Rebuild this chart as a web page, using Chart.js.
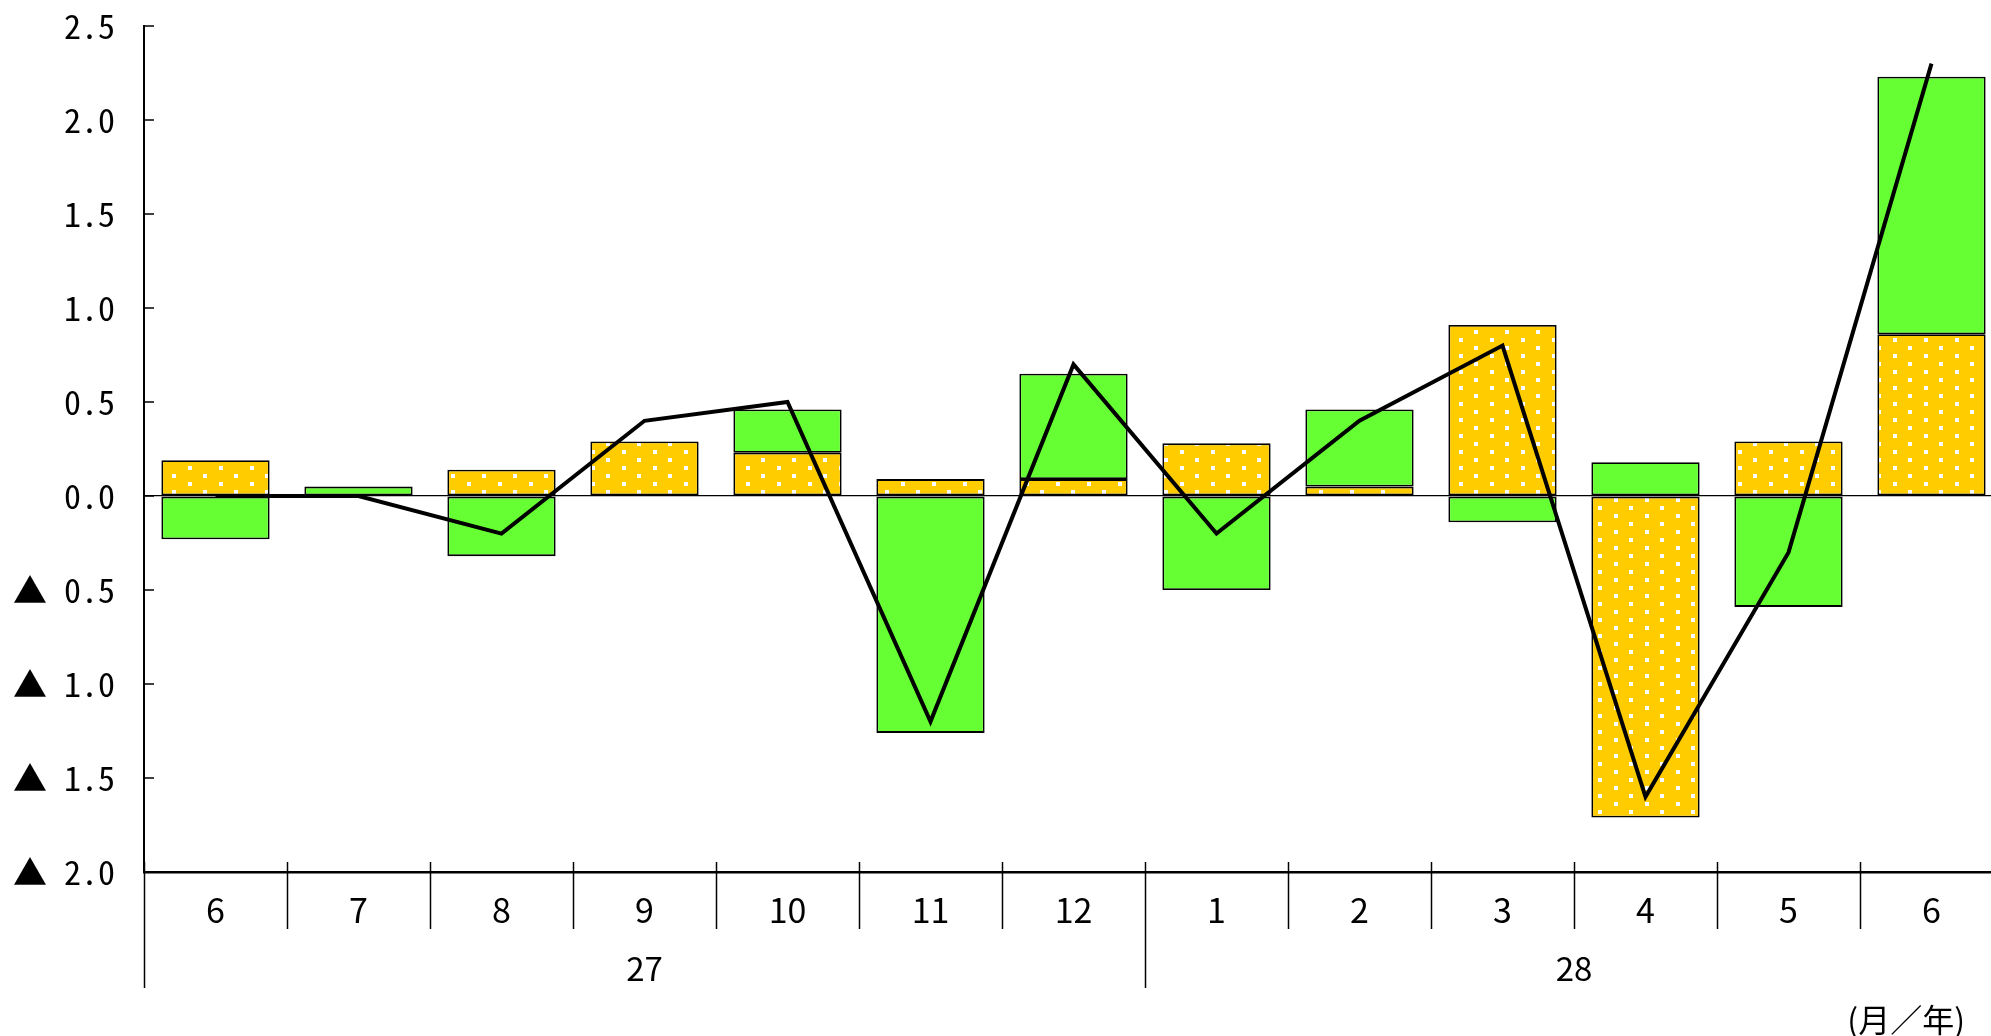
<!DOCTYPE html>
<html lang="ja">
<head>
    <meta charset="UTF-8">
    <title>月別寄与度</title>
    <script src="https://cdn.jsdelivr.net/npm/chart.js"></script>
    <style>
        html, body { margin: 0; padding: 0; background: #fff; overflow: hidden; }
        /* a bit wider than the window: the last column runs off the right edge */
        .chart-box { width: 2003px; height: 1036px; position: relative; }
    </style>
</head>
<body>
<div class="chart-box">
    <canvas id="canvas"></canvas>
</div>

<script>
    // months along the axis, grouped by year
    const months = ['6', '7', '8', '9', '10', '11', '12', '1', '2', '3', '4', '5', '6'];
    const yearNames = ['27', '28'];
    const yearStart = [0, 7];

    // dotted yellow part, green part, and the total (line)
    const dottedPart = [0.19, 0, 0.14, 0.29, 0.23, 0.09, 0.09, 0.28, 0.05, 0.91, -1.71, 0.29, 0.86];
    const greenPart = [-0.23, 0.05, -0.32, 0, 0.23, -1.26, 0.56, -0.50, 0.41, -0.14, 0.18, -0.59, 1.37];
    const total = [0, 0, -0.2, 0.4, 0.5, -1.2, 0.7, -0.2, 0.4, 0.8, -1.6, -0.3, 2.3];

    const yMin = -2;
    const yMax = 2.5;
    const yStep = 0.5;

    // yellow with white dots
    function dotPattern() {
        const tile = document.createElement('canvas');
        tile.width = 31;
        tile.height = 16;
        const c = tile.getContext('2d');
        c.fillStyle = '#FFCC00';
        c.fillRect(0, 0, 31, 16);
        c.fillStyle = '#FFFFFF';
        c.fillRect(2, 2, 4, 4);
        c.fillRect(17, 10, 4, 4);
        return c.createPattern(tile, 'repeat');
    }

    function line(ctx, x1, y1, x2, y2) {
        ctx.beginPath();
        ctx.moveTo(x1, y1);
        ctx.lineTo(x2, y2);
        ctx.stroke();
    }

    // inward ticks, category dividers, year row and unit label
    const framePlugin = {
        id: 'frame',
        afterDraw(chart) {
            const { ctx, chartArea: a, scales: { x, y } } = chart;
            const half = (x.getPixelForValue(1) - x.getPixelForValue(0)) / 2;
            ctx.save();
            ctx.strokeStyle = '#000';

            ctx.lineWidth = 1.5;
            y.ticks.forEach(t => {
                const py = y.getPixelForValue(t.value);
                line(ctx, a.left, py, a.left + 10, py);
            });

            months.forEach((m, i) => {
                const px = Math.round(x.getPixelForValue(i) - half) + 0.5;
                const isYear = yearStart.includes(i);
                line(ctx, px, a.bottom - 10, px, a.bottom + (isYear ? 116 : 57));
            });

            ctx.fillStyle = '#000';
            ctx.textAlign = 'center';
            ctx.textBaseline = 'middle';
            ctx.font = '33px "Noto Sans CJK JP"';
            yearNames.forEach((name, k) => {
                const from = yearStart[k];
                const to = (k + 1 < yearStart.length ? yearStart[k + 1] : months.length) - 1;
                const cx = (x.getPixelForValue(from) + x.getPixelForValue(to)) / 2;
                ctx.fillText(name, cx, a.bottom + 96);
            });

            ctx.textAlign = 'right';
            ctx.font = '32px "Noto Sans CJK JP"';
            ctx.fillText('(月／年)', a.right - 38, a.bottom + 148);
            ctx.restore();
        }
    };

    const ctx = document.getElementById('canvas').getContext('2d');
    new Chart(ctx, {
        type: 'bar',
        data: {
            labels: months,
            datasets: [
                {
                    type: 'line',
                    label: '合計',
                    data: total,
                    stack: 'line',
                    order: 0,
                    borderColor: '#000',
                    borderWidth: 4,
                    tension: 0,
                    pointRadius: 0,
                    fill: false
                },
                {
                    label: 'A',
                    data: dottedPart,
                    stack: 'bars',
                    order: 1,
                    backgroundColor: dotPattern(),
                    borderColor: '#000',
                    borderWidth: 1.8,
                    borderSkipped: false,
                    barPercentage: 0.757,
                    categoryPercentage: 1
                },
                {
                    label: 'B',
                    data: greenPart,
                    stack: 'bars',
                    order: 2,
                    backgroundColor: '#66FF33',
                    borderColor: '#000',
                    borderWidth: 1.8,
                    borderSkipped: false,
                    barPercentage: 0.757,
                    categoryPercentage: 1
                }
            ]
        },
        options: {
            responsive: true,
            maintainAspectRatio: false,
            animation: false,
            devicePixelRatio: 1,
            layout: { padding: { top: 26, right: 0, bottom: 0, left: 0 } },
            plugins: {
                legend: { display: false },
                tooltip: { enabled: false }
            },
            scales: {
                x: {
                    stacked: true,
                    grid: { display: false },
                    border: { display: true, color: '#000', width: 2.5 },
                    ticks: {
                        color: '#000',
                        padding: 10,
                        font: { family: '"Noto Sans CJK JP"', size: 34 }
                    },
                    afterFit: s => { s.height = 164; }
                },
                y: {
                    stacked: true,
                    min: yMin,
                    max: yMax,
                    grid: {
                        drawTicks: false,
                        color: c => (c.tick && c.tick.value === 0 ? '#000' : 'rgba(0,0,0,0)'),
                        lineWidth: 1.2
                    },
                    border: { display: true, color: '#000', width: 2 },
                    ticks: {
                        stepSize: yStep,
                        padding: 29,
                        color: '#000',
                        font: { family: '"Noto Sans Mono CJK JP", "Liberation Mono", monospace', size: 34 },
                        callback: v => (v < 0 ? '▲ ' : '') + Math.abs(v).toFixed(1)
                    },
                    afterFit: s => {
                        s.width = 144;
                        s.paddingTop = 0;
                        s.paddingBottom = 0;
                    }
                }
            }
        },
        plugins: [framePlugin]
    });
</script>
</body>
</html>
